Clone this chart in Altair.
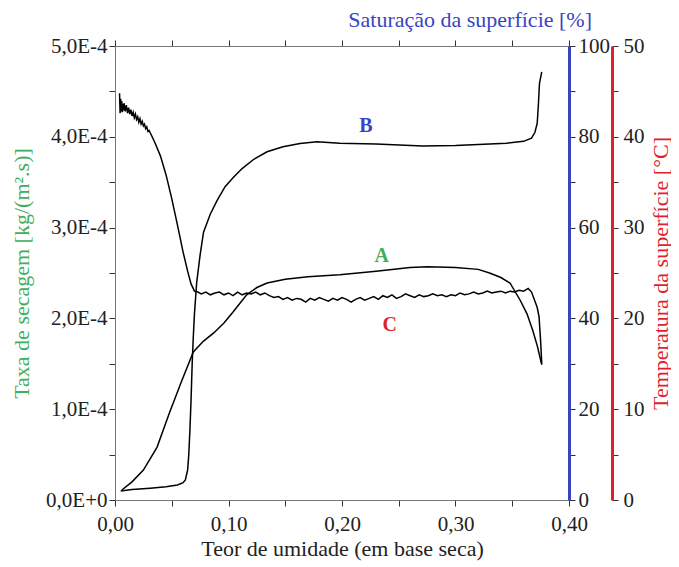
import altair as alt
import pandas as pd

# ---------------- data ----------------
# Curve A: drying rate (left axis, in units of 1E-4 kg/(m2.s))
x_a = [0.006, 0.015, 0.025, 0.037, 0.048, 0.059, 0.069, 0.078, 0.087, 0.096,
       0.104, 0.116, 0.125, 0.134, 0.150, 0.170, 0.198, 0.230, 0.260, 0.275,
       0.300, 0.320, 0.330, 0.340, 0.348, 0.357, 0.363, 0.368, 0.372, 0.376]
rate_a = [0.11, 0.20, 0.33, 0.58, 0.96, 1.32, 1.63, 1.75, 1.84, 1.95,
          2.07, 2.26, 2.34, 2.39, 2.43, 2.46, 2.48, 2.52, 2.56, 2.57,
          2.56, 2.54, 2.50, 2.45, 2.39, 2.20, 2.05, 1.87, 1.70, 1.49]

# Curve B: surface saturation [%] (blue axis)
x_b = [0.005, 0.015, 0.031, 0.045, 0.055, 0.060, 0.062, 0.064, 0.065, 0.066,
       0.067, 0.068, 0.069, 0.070, 0.072, 0.075, 0.078, 0.084, 0.090, 0.097,
       0.104, 0.112, 0.122, 0.134, 0.148, 0.163, 0.178, 0.198, 0.230, 0.271,
       0.300, 0.330, 0.345, 0.360, 0.367, 0.370, 0.372, 0.373, 0.374, 0.376]
sat_b = [2.0, 2.3, 2.6, 2.9, 3.3, 3.8, 4.4, 6.6, 10.0, 15.4,
         22.0, 30.0, 36.0, 41.0, 48.0, 54.0, 59.0, 63.0, 66.0, 69.0,
         71.0, 73.0, 75.0, 76.7, 77.8, 78.5, 78.9, 78.6, 78.4, 78.0,
         78.1, 78.4, 78.6, 79.0, 79.7, 81.0, 83.0, 87.0, 91.8, 94.3]

# Curve C: surface temperature [°C] (red axis)
x_c = [0.004, 0.0045, 0.005, 0.0055, 0.006, 0.0065, 0.007, 0.0075, 0.008, 0.009,
       0.010, 0.011, 0.012, 0.013, 0.014, 0.015, 0.016, 0.017, 0.018, 0.019,
       0.020, 0.021, 0.022, 0.023, 0.024, 0.025, 0.026, 0.027, 0.028, 0.029,
       0.030, 0.032, 0.035, 0.040, 0.045, 0.050, 0.055, 0.060, 0.064, 0.067,
       0.070, 0.073, 0.076, 0.080, 0.084, 0.088, 0.092, 0.096, 0.100, 0.104,
       0.108, 0.112, 0.116, 0.120, 0.124, 0.128, 0.132, 0.136, 0.140, 0.144,
       0.148, 0.152, 0.156, 0.160, 0.164, 0.168, 0.172, 0.176, 0.180, 0.184,
       0.188, 0.192, 0.196, 0.200, 0.204, 0.208, 0.212, 0.216, 0.220, 0.224,
       0.228, 0.232, 0.236, 0.240, 0.244, 0.248, 0.252, 0.256, 0.260, 0.264,
       0.268, 0.272, 0.276, 0.280, 0.284, 0.288, 0.292, 0.296, 0.300, 0.304,
       0.308, 0.312, 0.316, 0.320, 0.324, 0.328, 0.332, 0.336, 0.340, 0.344,
       0.348, 0.352, 0.356, 0.360, 0.364, 0.367, 0.370, 0.372, 0.3736, 0.375,
       0.376]
temp_c = [44.8, 42.6, 44.2, 42.8, 43.9, 42.7, 43.6, 42.9, 43.7, 42.8,
          43.5, 42.6, 43.2, 42.5, 43.0, 42.3, 42.7, 42.1, 42.5, 41.9,
          42.2, 41.6, 42.0, 41.4, 41.7, 41.2, 41.4, 40.9, 41.1, 40.6,
          40.7, 40.2, 39.4, 37.9, 35.8, 33.2, 30.3, 27.3, 25.2, 23.8,
          23.0, 22.9, 22.7, 22.9, 22.6, 22.8, 22.9, 22.6, 22.8, 22.5,
          22.9, 22.6, 22.8, 22.7, 22.9, 22.6, 22.8, 22.5, 22.3, 22.4,
          22.1, 22.3, 22.0, 22.2, 22.1, 21.8, 22.2, 22.0, 22.3, 22.1,
          21.9, 22.2, 22.0, 22.3, 22.1, 21.8, 22.1, 22.3, 22.0, 22.2,
          22.4, 22.1, 22.5, 22.3, 22.6, 22.2, 22.4, 22.7, 22.5, 22.3,
          22.6, 22.4, 22.5, 22.7, 22.5, 22.6, 22.4, 22.6, 22.5, 22.8,
          22.6, 22.7, 22.9, 22.7, 22.8, 23.0, 22.8, 22.9, 23.0, 22.8,
          23.0, 22.9, 23.1, 23.0, 23.3, 22.9, 21.9, 21.2, 20.2, 17.5,
          15.0]

# Curve labels (positions in x and left-axis units)
lbl_text = ["A", "B", "C"]
lbl_x = [0.235, 0.221, 0.242]
lbl_y = [2.69, 4.12, 1.93]

GREEN = "#3fae5e"
BLUE = "#3a44c0"
RED = "#e01e2e"
FONT = "Liberation Serif"
AXIS_GRAY = "#777777"
TICK = "#333333"

df_a = pd.DataFrame({"x": x_a, "rate": rate_a})
df_b = pd.DataFrame({"x": x_b, "sat": sat_b})
df_c = pd.DataFrame({"x": x_c, "temp": temp_c})
df_l = pd.DataFrame({"lbl": lbl_text, "lx": lbl_x, "ly": lbl_y})

xscale = alt.Scale(domain=[0, 0.4], nice=False, zero=False)
xticks = [round(0.05 * i, 2) for i in range(9)]

common = dict(labelFont=FONT, titleFont=FONT, labelFontSize=21, titleFontSize=22,
              titleFontWeight="normal", tickColor=TICK, labelColor="#222222",
              grid=False, tickSize=6, labelFlush=False, labelOverlap=False)

x_bottom = alt.Axis(
    orient="bottom", values=xticks, title="Teor de umidade (em base seca)",
    labelExpr="abs(datum.value*10 - round(datum.value*10)) < 0.001 ? replace(format(datum.value, '.2f'), '.', ',') : ''",
    domainColor=AXIS_GRAY, titleColor="#222222", labelPadding=7, titlePadding=4,
    **common)
x_top = alt.Axis(orient="top", values=xticks, labels=False, title=None,
                 domainColor=AXIS_GRAY, tickColor=TICK, tickSize=6, grid=False)

y_left = alt.Axis(
    orient="left", values=[0.5 * i for i in range(11)],
    labelExpr="datum.value % 1 != 0 ? '' : (datum.value == 0 ? '0,0E+0' : format(datum.value, '.0f') + ',0E-4')",
    title="Taxa de secagem [kg/(m².s)]", titleColor=GREEN, domainColor=AXIS_GRAY,
    labelPadding=2, titlePadding=12, **common)
y_blue = alt.Axis(
    orient="right", values=[10 * i for i in range(11)],
    labelExpr="datum.value % 20 == 0 ? datum.label : ''",
    title=None, domainColor=BLUE, domainWidth=3, labelPadding=3, **common)
y_red = alt.Axis(
    orient="right", offset=43, values=[5 * i for i in range(11)],
    labelExpr="datum.value % 10 == 0 ? datum.label : ''",
    title="Temperatura da superfície [°C]", titleColor=RED, titleAngle=270,
    titleBaseline="top",
    domainColor=RED, domainWidth=3, labelPadding=5, titlePadding=6, **common)

line_a = alt.Chart(df_a).mark_line(color="black", strokeWidth=1.5).encode(
    x=alt.X("x:Q", scale=xscale, axis=x_bottom),
    y=alt.Y("rate:Q", scale=alt.Scale(domain=[0, 5], nice=False, zero=True), axis=y_left),
)
line_b = alt.Chart(df_b).mark_line(color="black", strokeWidth=1.5).encode(
    x=alt.X("x:Q", scale=xscale, axis=None),
    y=alt.Y("sat:Q", scale=alt.Scale(domain=[0, 100], nice=False), axis=y_blue),
)
line_c = alt.Chart(df_c).mark_line(color="black", strokeWidth=1.5).encode(
    x=alt.X("x:Q", scale=xscale, axis=None),
    y=alt.Y("temp:Q", scale=alt.Scale(domain=[0, 50], nice=False), axis=y_red),
)
labels = alt.Chart(df_l).mark_text(font=FONT, fontSize=20, fontWeight="bold").encode(
    x=alt.X("lx:Q", scale=xscale, axis=x_top),
    y=alt.Y("ly:Q", scale=alt.Scale(domain=[0, 5], nice=False), axis=None),
    text="lbl:N",
    color=alt.Color("lbl:N", scale=alt.Scale(domain=lbl_text, range=[GREEN, BLUE, RED]), legend=None),
)

chart = alt.layer(line_a, line_b, line_c, labels).resolve_scale(
    y="independent", color="independent"
).resolve_axis(x="independent", y="independent").properties(
    width=454, height=454,
    autosize=alt.AutoSizeParams(type="none"),
    padding={"left": 107, "top": 38, "right": 102, "bottom": 62},
    title=alt.TitleParams("Saturação da superfície [%]", anchor="end", frame="group", dx=23, offset=3,
                          font=FONT, fontSize=22, fontWeight="normal", color=BLUE),
).configure_view(stroke=None)

chart.save("out.html", embed_options={"renderer": "svg", "actions": False})
